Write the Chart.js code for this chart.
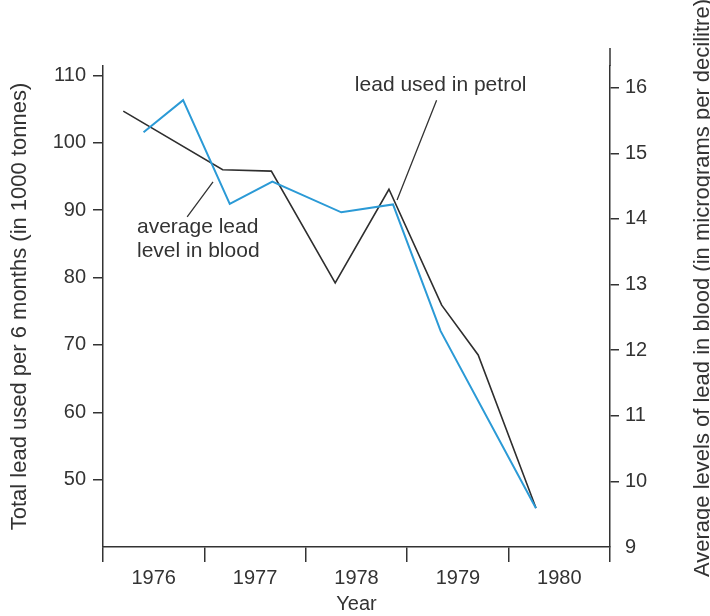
<!DOCTYPE html>
<html>
<head>
<meta charset="utf-8">
<script src="https://cdn.jsdelivr.net/npm/chart.js@4.4.1/dist/chart.umd.min.js"></script>
<style>
    html, body { margin: 0; padding: 0; background: #fff; }
    #wrap { width: 710px; height: 616px; }
</style>
</head>
<body>
<div id="wrap"><canvas id="mainChart" width="710" height="616"></canvas></div>
<script>
// lead used in petrol, 1000 tonnes per 6 months (left axis)
let petrolYears = [1976.20, 1977.18, 1977.66, 1978.29, 1978.82, 1979.34, 1979.70, 1980.27];
let petrolLead = [104.7, 96.0, 95.8, 79.2, 93.1, 75.9, 68.5, 45.8];

// average lead level in blood, micrograms per decilitre (right axis)
let bloodYears = [1976.40, 1976.79, 1977.25, 1977.67, 1978.35, 1978.86, 1979.33, 1980.27];
let bloodLead = [15.32, 15.81, 14.23, 14.57, 14.10, 14.22, 12.29, 9.59];

let yearLabels = ["1976", "1977", "1978", "1979", "1980"];
let leftTicks = [50, 60, 70, 80, 90, 100, 110];
let rightTicks = [9, 10, 11, 12, 13, 14, 15, 16];

const INK = '#333';
const FONT = '"Liberation Sans", Arial, sans-serif';

function pairs(xs, ys) {
    return xs.map((v, i) => ({ x: v, y: ys[i] }));
}

// labels sit in the middle of each year, tick marks on the year boundaries
function yearTicks(axis) {
    let t = [];
    for (let i = 0; i <= yearLabels.length; i++) {
        t.push({ value: 1976 + i });
        if (i < yearLabels.length) t.push({ value: 1976 + i + 0.5 });
    }
    axis.ticks = t;
}

const annotate = {
    id: 'annotate',
    afterDraw(chart) {
        let { ctx, chartArea } = chart;
        let x = chart.scales.x, y = chart.scales.y;
        ctx.save();
        ctx.fillStyle = INK;
        ctx.strokeStyle = INK;
        ctx.font = '21px ' + FONT;
        ctx.textBaseline = 'middle';

        ctx.textAlign = 'center';
        ctx.fillText('lead used in petrol', x.getPixelForValue(1979.33), y.getPixelForValue(108.5));

        ctx.textAlign = 'left';
        ctx.fillText('average lead', x.getPixelForValue(1976.335), y.getPixelForValue(87.4));
        ctx.fillText('level in blood', x.getPixelForValue(1976.335), y.getPixelForValue(83.9));

        // leader lines
        ctx.lineWidth = 1.3;
        ctx.beginPath();
        ctx.moveTo(x.getPixelForValue(1979.29), y.getPixelForValue(106.3));
        ctx.lineTo(x.getPixelForValue(1978.90), y.getPixelForValue(91.5));
        ctx.moveTo(x.getPixelForValue(1977.085), y.getPixelForValue(94.2));
        ctx.lineTo(x.getPixelForValue(1976.83), y.getPixelForValue(89.0));
        ctx.stroke();

        // right axis runs a bit above the plot
        ctx.lineWidth = 1.5;
        ctx.beginPath();
        ctx.moveTo(chartArea.right, chartArea.top);
        ctx.lineTo(chartArea.right, chartArea.top - 18);
        ctx.stroke();

        // right axis title, reading upwards
        ctx.font = '22px ' + FONT;
        ctx.translate(703, chartArea.bottom + 30);
        ctx.rotate(-Math.PI / 2);
        ctx.textAlign = 'left';
        ctx.fillText('Average levels of lead in blood (in micrograms per decilitre)', 0, 0);
        ctx.restore();
    }
};

let ctx = document.getElementById('mainChart').getContext('2d');

window.chart = new Chart(ctx, {
    type: 'line',
    data: {
        datasets: [{
            label: 'average lead level in blood',
            data: pairs(bloodYears, bloodLead),
            yAxisID: 'y1',
            borderColor: '#2b9ad6',
            borderWidth: 2,
            pointRadius: 0,
            tension: 0
        }, {
            label: 'lead used in petrol',
            data: pairs(petrolYears, petrolLead),
            yAxisID: 'y',
            borderColor: '#2e2e2e',
            borderWidth: 1.6,
            pointRadius: 0,
            tension: 0
        }]
    },
    options: {
        responsive: false,
        animation: false,
        devicePixelRatio: 1,
        layout: { padding: { top: 66, left: 0, right: 0, bottom: 0 } },
        plugins: { legend: { display: false }, tooltip: { enabled: false } },
        scales: {
            x: {
                type: 'linear',
                min: 1976,
                max: 1981,
                afterBuildTicks: yearTicks,
                afterFit: s => { s.height = 69; },
                border: { display: true, color: INK, width: 1.5 },
                grid: {
                    drawOnChartArea: false,
                    drawTicks: true,
                    tickLength: 15,
                    lineWidth: 1.5,
                    color: c => (c.tick && c.tick.value % 1 === 0) ? INK : 'rgba(0,0,0,0)'
                },
                ticks: {
                    autoSkip: false,
                    maxRotation: 0,
                    padding: 4,
                    color: INK,
                    font: { family: FONT, size: 20 },
                    callback: v => v % 1 ? yearLabels[Math.floor(v) - 1976] : ''
                },
                title: {
                    display: true,
                    text: 'Year',
                    color: INK,
                    font: { family: FONT, size: 20 },
                    padding: { top: 0, bottom: 0 }
                }
            },
            y: {
                position: 'left',
                min: 40,
                max: 111.4,
                afterBuildTicks: a => { a.ticks = leftTicks.map(v => ({ value: v })); },
                afterFit: s => { s.width = 103; },
                border: { display: true, color: INK, width: 1.5 },
                grid: { drawOnChartArea: false, tickLength: 10, lineWidth: 1.5, color: INK },
                ticks: { padding: 7, color: INK, font: { family: FONT, size: 20 } },
                title: {
                    display: true,
                    text: 'Total lead used per 6 months (in 1000 tonnes)',
                    color: INK,
                    font: { family: FONT, size: 22 },
                    padding: { top: 7, bottom: 0 }
                }
            },
            y1: {
                position: 'right',
                min: 9,
                max: 16.33,
                afterBuildTicks: a => { a.ticks = rightTicks.map(v => ({ value: v })); },
                afterFit: s => { s.width = 100; },
                border: { display: true, color: INK, width: 1.5 },
                grid: {
                    drawOnChartArea: false,
                    tickLength: 9,
                    lineWidth: 1.5,
                    color: c => (c.tick && c.tick.value === 9) ? 'rgba(0,0,0,0)' : INK
                },
                ticks: { padding: 6, color: INK, font: { family: FONT, size: 20 } }
            }
        }
    },
    plugins: [annotate]
});
</script>
</body>
</html>
